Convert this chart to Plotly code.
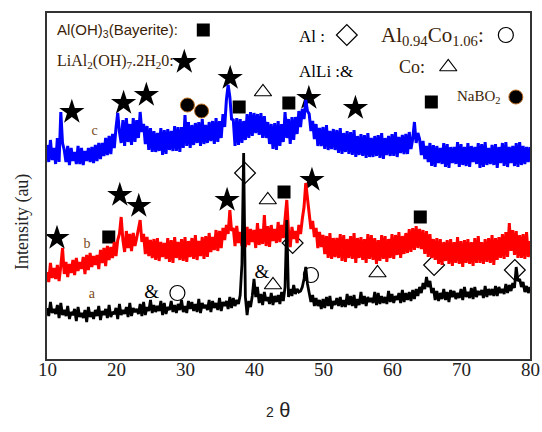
import numpy as np
import plotly.graph_objects as go

# 2-theta scan: 10 to 80 deg in 0.25 deg steps
START, STEP = 10.0, 0.25

# Intensities (arbitrary units), 4 readings per degree
a_black = [
    51, 43, 57, 46,  50, 45, 54, 41,  56, 44, 49, 43,  53, 40, 47, 44,
    50, 38, 52, 42,  46, 41, 49, 37,  52, 42, 47, 40,  49, 43, 53, 39,
    48, 44, 50, 41,  54, 42, 47, 45,  51, 40, 55, 44,  49, 45, 52, 42,
    56, 43, 51, 47,  50, 45, 55, 43,  57, 44, 52, 48,  59, 46, 54, 47,
    53, 48, 58, 44,  56, 45, 52, 49,  58, 47, 54, 46,  55, 49, 59, 47,
    53, 46, 58, 50,  57, 48, 55, 47,  60, 46, 56, 51,  54, 49, 59, 47,
    58, 51, 56, 49,  61, 48, 57, 53,  58, 50, 62, 51,  61, 53, 59, 55,
    64, 95, 206, 62, 44, 58, 52, 63,  80, 62, 72, 56,  65, 54, 67, 58,
    62, 55, 66, 54,  63, 57, 64, 55,  67, 58, 72, 139, 62, 70, 63, 74,
    65, 70, 67, 68,  72, 80, 92, 75,  66, 57, 64, 53,  61, 53, 59, 50,
    60, 51, 62, 53,  63, 50, 58, 54,  61, 53, 62, 52,  59, 52, 65, 54,
    63, 53, 64, 51,  60, 54, 67, 55,  63, 53, 62, 57,  61, 56, 67, 54,
    66, 55, 63, 56,  62, 55, 68, 57,  65, 56, 63, 59,  66, 56, 69, 57,
    66, 59, 67, 58,  69, 60, 70, 63,  72, 66, 76, 70,  82, 72, 78, 66,
    71, 59, 68, 58,  66, 60, 70, 59,  67, 57, 69, 62,  68, 60, 66, 61,
    70, 59, 72, 62,  67, 61, 71, 60,  72, 62, 68, 64,  69, 61, 73, 62,
    70, 64, 70, 63,  73, 63, 72, 66,  70, 65, 75, 66,  74, 68, 76, 71,
    92, 78, 80, 72,  77, 67, 73, 66,  72,
]

b_red = [
    87, 77, 96, 81,  91, 80, 94, 78,  93, 111, 85, 97,  82, 95, 86, 99,
    84, 101, 88, 97, 90, 102, 85, 104, 89, 106, 92, 103, 94, 104, 90, 109,
    96, 111, 93, 113, 99, 112, 101, 117, 103, 119, 125, 142, 119, 107, 128, 111,
    125, 108, 126, 113, 121, 130, 139, 117, 125, 105, 122, 103, 119, 101, 120, 99,
    121, 98, 117, 102, 116, 100, 121, 97, 119, 96, 122, 101, 117, 99, 120, 98,
    122, 97, 118, 102, 121, 100, 124, 99, 118, 103, 122, 100, 123, 102, 126, 107,
    122, 109, 129, 108, 128, 111, 131, 119, 134, 125, 149, 128, 131, 113, 133, 116,
    127, 113, 135, 112, 132, 114, 130, 117, 129, 111, 136, 114, 130, 115, 144, 113,
    133, 112, 134, 118, 130, 116, 137, 117, 134, 121, 140, 159, 128, 112, 132, 120,
    128, 116, 134, 125, 140, 152, 176, 160, 142, 130, 138, 122, 131, 111, 127, 112,
    124, 105, 123, 101, 126, 100, 121, 102, 121, 101, 125, 98, 124, 97, 120, 101,
    123, 100, 126, 96, 121, 101, 122, 99, 120, 96, 125, 100, 124, 99, 121, 95,
    119, 98, 124, 100, 123, 97, 120, 101, 125, 100, 124, 104, 127, 101, 123, 105,
    126, 106, 130, 107, 131, 109, 133, 111, 130, 110, 129, 105, 128, 102, 125, 101,
    120, 99, 121, 95, 120, 94, 117, 98, 119, 95, 120, 93, 117, 96, 122, 95,
    118, 92, 119, 96, 120, 95, 117, 93, 121, 96, 123, 96, 117, 95, 120, 97,
    121, 96, 124, 94, 121, 99, 122, 101, 125, 100, 127, 102, 136, 108, 129, 104,
    128, 101, 124, 101, 125, 100, 127, 102, 118,
]

c_blue = [
    214, 197, 219, 199, 211, 195, 221, 197, 247, 216, 209, 197, 213, 194, 211, 198,
    207, 195, 213, 195, 211, 194, 208, 198, 211, 197, 212, 196, 214, 198, 216, 200,
    216, 203, 221, 204, 223, 205, 225, 211, 231, 246, 227, 216, 239, 213, 241, 217,
    235, 214, 241, 217, 239, 221, 247, 227, 235, 215, 233, 209, 231, 207, 228, 207,
    226, 208, 231, 204, 229, 205, 230, 209, 228, 208, 233, 208, 232, 207, 232, 211,
    244, 213, 237, 211, 234, 214, 236, 216, 237, 213, 240, 215, 234, 216, 237, 218,
    238, 215, 241, 217, 238, 221, 245, 232, 259, 274, 262, 240, 239, 213, 241, 214,
    240, 216, 238, 219, 245, 221, 247, 223, 246, 226, 245, 224, 246, 221, 243, 221,
    237, 215, 235, 210, 236, 209, 238, 213, 235, 217, 247, 221, 240, 215, 242, 219,
    242, 225, 248, 232, 250, 240, 259, 248, 245, 228, 238, 220, 235, 213, 231, 213,
    232, 210, 234, 209, 228, 210, 230, 209, 229, 206, 231, 205, 226, 207, 228, 205,
    227, 204, 229, 202, 223, 204, 225, 203, 224, 201, 226, 202, 221, 202, 223, 203,
    224, 201, 226, 200, 221, 204, 223, 203, 225, 203, 227, 202, 222, 206, 224, 205,
    225, 205, 227, 210, 220, 237, 216, 226, 220, 204, 218, 200, 213, 197, 216, 193,
    214, 192, 213, 196, 211, 195, 216, 192, 215, 191, 212, 196, 212, 195, 217, 192,
    215, 194, 212, 193, 216, 192, 213, 197, 212, 195, 216, 191, 215, 192, 217, 194,
    211, 195, 214, 194, 215, 191, 212, 196, 216, 193, 217, 192, 212, 196, 213, 193,
    216, 192, 217, 194, 213, 195, 212, 197, 212,
]

two_theta = START + STEP * np.arange(len(a_black))

# Phase markers (2theta, intensity) including the key glyphs at the top
square_x = [37.85, 45.05, 65.7, 18.95, 44.35, 64.1, 32.65]
square_y = [252, 256, 257, 122, 167, 142, 329]
star_x = [13.6, 21.1, 24.4, 36.55, 47.95, 54.7, 11.45, 20.55, 23.3, 36.1, 48.4, 29.9]
star_y = [247, 256, 264, 281, 261, 251, 121, 164, 153, 159, 179, 297]
dot_x = [30.35, 32.4, 77.95]
dot_y = [254, 248, 262]
diamond_x = [38.7, 45.6, 66.1, 77.8, 53.45]
diamond_y = [186, 116, 94, 89, 324]
ring_x = [28.9, 48.25, 76.5]
ring_y = [66, 84, 324]
tri_x = [41.3, 42.0, 42.75, 57.9, 68.15]
tri_y = [267, 159, 74, 86, 292]
amp_x = [25.15, 41.15]
amp_y = [66, 86]

curve_labels = ["a", "b", "c"]
label_x = [16.5, 15.8, 16.9]
label_y = [65, 115, 228]

tick_vals = [10, 20, 30, 40, 50, 60, 70, 80]

W, H = 542, 432
L, R, T, B = 47, 10, 13, 73
PW, PH = W - L - R, H - T - B

def px(x):
    return (x - L) / PW

def py(y):
    return (H - B - y) / PH

fig = go.Figure()

def mk(xs, ys, symbol, size, lw=0, lc="black"):
    fig.add_trace(go.Scatter(
        x=xs, y=ys, mode="markers", hoverinfo="skip", showlegend=False,
        marker=dict(symbol=symbol, size=size, color="black",
                    line=dict(color=lc, width=lw))))

mk(square_x, square_y, "square", 13)
mk(star_x, star_y, "star", 19)
mk(dot_x, dot_y, "circle", 14, lw=1, lc="#b86a20")
mk(diamond_x, diamond_y, "diamond-open", 16, lw=1.2)
mk(ring_x, ring_y, "circle-open", 15, lw=1.2)
mk(tri_x, tri_y, "triangle-up-open", 15, lw=1.2)

fig.add_trace(go.Scatter(x=amp_x, y=amp_y, mode="text", text=["&"] * len(amp_x),
                         textfont=dict(family="Liberation Serif", size=19, color="black"),
                         hoverinfo="skip", showlegend=False))
fig.add_trace(go.Scatter(x=label_x, y=label_y, mode="text", text=curve_labels,
                         textfont=dict(family="Liberation Serif", size=14, color="#7a4a1a"),
                         hoverinfo="skip", showlegend=False))

for ys, col, lw in [(c_blue, "#0000ff", 3.0), (b_red, "#ff0000", 3.0), (a_black, "#000000", 2.8)]:
    fig.add_trace(go.Scatter(x=two_theta, y=ys, mode="lines", hoverinfo="skip",
                             showlegend=False, line=dict(color=col, width=lw)))

serif = "Liberation Serif"
brown = "#3a1e08"
texts = [
    ("Al(OH)<sub>3</sub>(Bayerite):", 55, 30, "Liberation Sans", 15, brown),
    ("LiAl<sub>2</sub>(OH)<sub>7</sub>.2H<sub>2</sub>0:", 55, 62, serif, 16, brown),
    ("Al :", 298, 36, serif, 17, "black"),
    ("Al<sub>0.94</sub>Co<sub>1.06</sub>:", 380, 36, serif, 21, brown),
    ("AlLi :&", 298, 71, serif, 17, "black"),
    ("Co:", 398, 67, serif, 18, brown),
    ("NaBO<sub>2</sub>", 457, 97, serif, 15, brown),
]
ann = []
for t, x, y, fam, sz, col in texts:
    ann.append(dict(text=t, x=px(x), y=py(y), xref="paper", yref="paper",
                    xanchor="left", yanchor="middle", showarrow=False,
                    font=dict(family=fam, size=sz, color=col)))
for v in tick_vals:
    ann.append(dict(text=str(v), x=v, y=py(369), xref="x", yref="paper",
                    xanchor="center", yanchor="middle", showarrow=False,
                    font=dict(family=serif, size=19, color="#222")))
ann.append(dict(text="Intensity (au)", x=px(22), y=py(222), xref="paper", yref="paper",
                textangle=-90, showarrow=False, xanchor="center", yanchor="middle",
                font=dict(family=serif, size=18, color="#222")))
ann.append(dict(text="<span style='font-size:14px'>2</span> θ", x=px(279), y=py(410),
                xref="paper", yref="paper", showarrow=False, xanchor="center",
                yanchor="middle", font=dict(family="Liberation Sans", size=20, color="#222")))

fig.update_layout(
    width=W, height=H, margin=dict(l=L, r=R, t=T, b=B),
    paper_bgcolor="white", plot_bgcolor="white",
    annotations=ann,
    xaxis=dict(range=[10, 80], showticklabels=False, ticks="",
               showgrid=False, zeroline=False, showline=True, mirror=True,
               linecolor="#333", linewidth=1.5),
    yaxis=dict(range=[0, PH], showticklabels=False, ticks="", showgrid=False,
               zeroline=False, showline=True, mirror=True, linecolor="#333",
               linewidth=1.5),
)

fig.write_html("out.html")
